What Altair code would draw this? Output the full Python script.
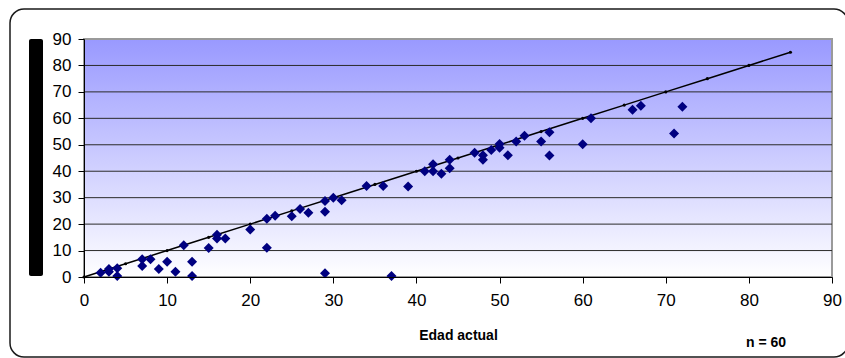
import altair as alt
import pandas as pd

# Data
edad_actual = [2, 3, 3, 4, 4, 7, 7, 8, 9, 10, 11, 12, 13, 13, 15, 16, 16, 17, 20, 22,
               22, 23, 25, 26, 27, 29, 29, 29, 30, 31, 34, 36, 37, 39, 41, 42, 42, 43, 44, 44,
               47, 48, 48, 49, 50, 50, 51, 52, 53, 55, 56, 56, 60, 61, 66, 67, 71, 72]
edad_estimada = [1.6, 3, 2, 3.3, 0.4, 6.7, 4.2, 6.7, 3, 5.8, 2, 12, 5.8, 0.4, 11, 16, 14.6, 14.6, 18, 22,
                 11.1, 23.2, 23, 25.7, 24.3, 28.7, 24.7, 1.4, 30, 29, 34.4, 34.4, 0.4, 34.2, 40, 42.6, 40, 39, 44.3, 41.1,
                 47, 46, 44.3, 48, 50.3, 48.9, 46, 51.2, 53.4, 51.2, 54.7, 45.9, 50.2, 60, 63.2, 64.8, 54.3, 64.4]
ref_x = [0, 5, 10, 15, 20, 25, 30, 35, 40, 45, 50, 55, 60, 65, 70, 75, 80, 85]
ref_y = [0, 5, 10, 15, 20, 25, 30, 35, 40, 45, 50, 55, 60, 65, 70, 75, 80, 85]
grid_y = [10, 20, 30, 40, 50, 60, 70, 80]
tick_values = [0, 10, 20, 30, 40, 50, 60, 70, 80, 90]
x_title = "Edad actual"
note = "n = 60"

W, H = 748, 238
FONT = "Liberation Sans"

pts = pd.DataFrame({"x": edad_actual, "y": edad_estimada})
ref = pd.DataFrame({"x": ref_x, "y": ref_y})
grid = pd.DataFrame({"y": grid_y})
one = pd.DataFrame({"a": [0]})

xs = alt.Scale(domain=[0, 90], nice=False)
ys = alt.Scale(domain=[0, 90], nice=False)

x_axis = alt.Axis(
    values=tick_values, title=x_title, grid=False, zindex=1,
    titleFont=FONT, titleFontSize=14, titleFontWeight="bold", titleColor="black",
    titleX=W / 2, titleY=62, titleBaseline="alphabetic",
    labelFont=FONT, labelFontSize=17, labelColor="black", labelPadding=9,
    tickSize=6, tickColor="black", domainColor="black", labelFlush=False,
)
y_axis = alt.Axis(
    values=tick_values, title="", grid=False, zindex=1,
    labelFont=FONT, labelFontSize=17, labelColor="black", labelPadding=7,
    tickSize=6, tickColor="black", domainColor="black", labelFlush=False,
)

frame = alt.Chart(one).mark_rect(
    fillOpacity=0, stroke="#1a1a1a", strokeWidth=1.5, cornerRadius=14
).encode(x=alt.value(-74), x2=alt.value(764), y=alt.value(-30), y2=alt.value(318))

bar = alt.Chart(one).mark_rect(color="black", cornerRadius=2).encode(
    x=alt.value(-55), x2=alt.value(-41), y=alt.value(0), y2=alt.value(237)
)

bg = alt.Chart(one).mark_rect(
    color=alt.Gradient(
        gradient="linear",
        stops=[alt.GradientStop(color="#9999FF", offset=0),
               alt.GradientStop(color="#FFFFFF", offset=1)],
        x1=0, x2=0, y1=0, y2=1,
    )
).encode(x=alt.value(0), x2=alt.value(W), y=alt.value(0), y2=alt.value(H))

border = alt.Chart(one).mark_rect(
    fillOpacity=0, stroke="#9a9a9a", strokeWidth=2
).encode(x=alt.value(0), x2=alt.value(W), y=alt.value(0), y2=alt.value(H))

gridlines = alt.Chart(grid).mark_rule(color="#2a2a2a", strokeWidth=1).encode(
    y=alt.Y("y:Q", scale=ys, axis=y_axis)
)

line = alt.Chart(ref).mark_line(
    color="black", strokeWidth=1.5,
    point=alt.OverlayMarkDef(color="black", filled=True, size=10),
).encode(
    x=alt.X("x:Q", scale=xs, axis=x_axis),
    y=alt.Y("y:Q", scale=ys, axis=y_axis),
)

points = alt.Chart(pts).mark_point(
    shape="diamond", filled=True, color="#000080", size=100, opacity=1
).encode(
    x=alt.X("x:Q", scale=xs, axis=x_axis),
    y=alt.Y("y:Q", scale=ys, axis=y_axis),
)

txt = alt.Chart(one).mark_text(
    text=note, font=FONT, fontSize=14, fontWeight="bold", color="black",
    align="center", baseline="middle",
).encode(x=alt.value(682), y=alt.value(304))

chart = alt.layer(frame, bar, bg, border, gridlines, line, points, txt).properties(
    width=W, height=H,
    autosize=alt.AutoSizeParams(type="none"),
    padding={"left": 84, "top": 39, "right": 13, "bottom": 81},
    background="white",
).configure_view(stroke=None)

chart.save("out.html", embed_options={"renderer": "svg", "actions": False})
